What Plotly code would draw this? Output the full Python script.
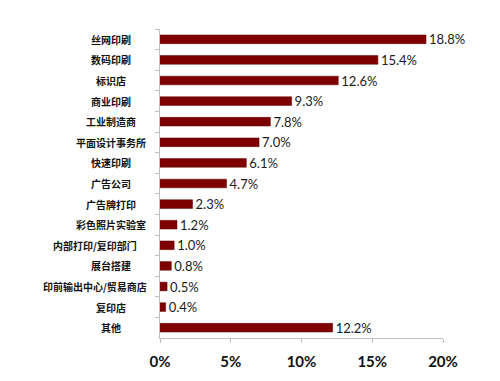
import plotly.graph_objects as go

categories = ["丝网印刷", "数码印刷", "标识店", "商业印刷", "工业制造商", "平面设计事务所",
              "快速印刷", "广告公司", "广告牌打印", "彩色照片实验室", "内部打印/复印部门",
              "展台搭建", "印前输出中心/贸易商店", "复印店", "其他"]
values = [18.8, 15.4, 12.6, 9.3, 7.8, 7.0, 6.1, 4.7, 2.3, 1.2, 1.0, 0.8, 0.5, 0.4, 12.2]
x_ticks = [0, 5, 10, 15, 20]
x_tick_labels = ["0%", "5%", "10%", "15%", "20%"]

W, H = 500, 381
L, R, T, B = 152, 65, 21, 51
plot_w = W - L - R

fig = go.Figure(go.Bar(
    x=values, y=categories, orientation="h",
    marker=dict(color="#7f0000", line=dict(color="#5a0000", width=0.5)),
    text=[f"{v:.1f}%" for v in values], textposition="outside",
    constraintext="none",
    textfont=dict(family="Lato, Open Sans, sans-serif", size=13, color="#1a1a1a"),
    cliponaxis=False,
))

# category labels, centred in the label area like the original
for c in categories:
    cx = 86.5 if len(c) > 7 else 103
    fig.add_annotation(
        x=(cx - L) / plot_w, xref="x domain", y=c, yref="y",
        text=c, showarrow=False, xanchor="center", yanchor="middle",
        font=dict(family="Noto Sans CJK SC", size=10, color="#111111", weight=600),
    )

fig.update_layout(
    width=W, height=H,
    margin=dict(l=L, r=R, t=T, b=B),
    plot_bgcolor="white", paper_bgcolor="white",
    bargap=0.58, showlegend=False,
    xaxis=dict(range=[0, 20], tickvals=x_ticks, ticktext=x_tick_labels, automargin=False,
               showgrid=False, zeroline=False, showline=True, linecolor="#bfbfbf",
               ticks="outside", ticklen=4, tickcolor="#bfbfbf", ticklabelstandoff=6,
               tickfont=dict(family="Lato, Open Sans, sans-serif", size=15, color="#111111",
                             weight="bold")),
    yaxis=dict(autorange="reversed", showgrid=False, showline=True, linecolor="#bfbfbf",
               ticks="outside", ticklen=4, tickcolor="#bfbfbf", tickson="boundaries",
               showticklabels=False, automargin=False),
)

fig.write_html("out.html")
